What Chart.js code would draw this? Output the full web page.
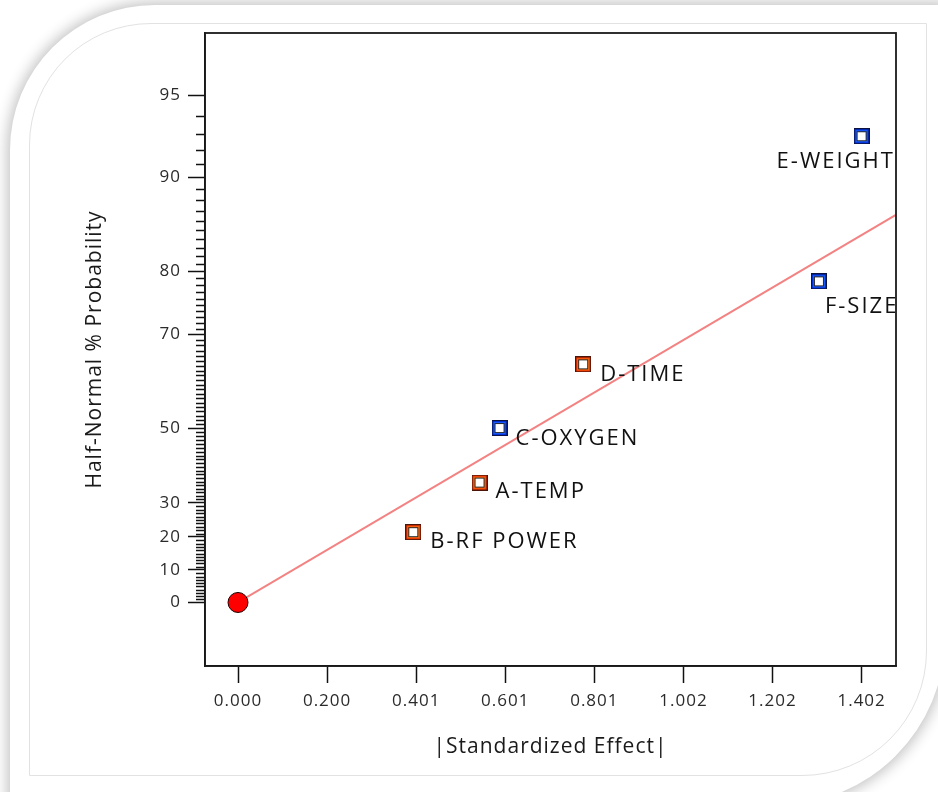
<!DOCTYPE html>
<html>
<head>
<meta charset="utf-8">
<script src="https://cdn.jsdelivr.net/npm/chart.js@4.4.0/dist/chart.umd.min.js"></script>
<style>
  html, body { margin: 0; padding: 0; width: 938px; height: 792px; overflow: hidden; background: #fff; }
  .card { position: absolute; left: 10px; top: 5px; width: 935px; height: 800px;
          border-radius: 145px 0 168px 0; background: #fff;
          box-shadow: 0 0 14px 3px rgba(0,0,0,0.24); }
  .inner { position: absolute; left: 29px; top: 23px; width: 896px; height: 751px;
           border: 1px solid #e2e2e2; border-radius: 122px 0 125px 0; }
  #plot { position: absolute; left: 0; top: 0; }
</style>
</head>
<body>
<div class="card"></div>
<div class="inner"></div>
<canvas id="plot" width="938" height="792"></canvas>
<script>
// effects, their |standardized effect| and half-normal probability (%)
const effectNames = ['B-RF POWER', 'A-TEMP', 'C-OXYGEN', 'D-TIME', 'F-SIZE', 'E-WEIGHT'];
const effectValues = [0.394, 0.543, 0.588, 0.776, 1.306, 1.402];
const effectProbs = [21.43, 35.71, 50.0, 64.29, 78.57, 92.86];
const effectColours = ['orange', 'orange', 'blue', 'orange', 'blue', 'blue'];

const originValues = [0];
const originProbs = [0];

const fitLineX = [0, 1.479];
const fitLineProbs = [0, 86.6];

const yMajorProbs = [0, 10, 20, 30, 50, 70, 80, 90, 95];
const yMinorProbs = [];
for (let p = 1; p <= 94; p++) if (!yMajorProbs.includes(p)) yMinorProbs.push(p);

const xTickValues = [0, 0.2003, 0.4006, 0.6009, 0.8011, 1.0014, 1.2017, 1.402];
const xTickLabels = ['0.000', '0.200', '0.401', '0.601', '0.801', '1.002', '1.202', '1.402'];

// inverse normal cdf (Acklam)
function invNorm(p) {
    const a = [-3.969683028665376e+01, 2.209460984245205e+02, -2.759285104469687e+02, 1.383577518672690e+02, -3.066479806614716e+01, 2.506628277459239e+00];
    const b = [-5.447609879822406e+01, 1.615858368580409e+02, -1.556989798598866e+02, 6.680131188771972e+01, -1.328068155288572e+01];
    const c = [-7.784894002430293e-03, -3.223964580411365e-01, -2.400758277161838e+00, -2.549732539343734e+00, 4.374664141464968e+00, 2.938163982698783e+00];
    const d = [7.784695709041462e-03, 3.224671290700398e-01, 2.445134137142996e+00, 3.754408661907416e+00];
    const pl = 0.02425;
    let q, r;
    if (p < pl) {
        q = Math.sqrt(-2 * Math.log(p));
        return (((((c[0]*q+c[1])*q+c[2])*q+c[3])*q+c[4])*q+c[5]) / ((((d[0]*q+d[1])*q+d[2])*q+d[3])*q+1);
    }
    if (p > 1 - pl) {
        q = Math.sqrt(-2 * Math.log(1 - p));
        return -(((((c[0]*q+c[1])*q+c[2])*q+c[3])*q+c[4])*q+c[5]) / ((((d[0]*q+d[1])*q+d[2])*q+d[3])*q+1);
    }
    q = p - 0.5; r = q * q;
    return (((((a[0]*r+a[1])*r+a[2])*r+a[3])*r+a[4])*r+a[5])*q / (((((b[0]*r+b[1])*r+b[2])*r+b[3])*r+b[4])*r+1);
}
const halfNormal = pct => invNorm(0.5 + pct / 200);

const markerColours = {
    orange: { edge: '#4a160a', ring: '#e83000', glow: '#ff6a10' },
    blue: { edge: '#0c1240', ring: '#0030d8', glow: '#1a5cff' },
};
function makeMarker(name) {
    const col = markerColours[name];
    const cv = document.createElement('canvas');
    cv.width = 16; cv.height = 16;
    const g = cv.getContext('2d');
    g.fillStyle = col.edge; g.fillRect(0, 0, 16, 16);
    g.fillStyle = col.ring; g.fillRect(1, 1, 14, 14);
    g.fillStyle = col.glow; g.fillRect(2, 2, 12, 12);
    g.fillStyle = '#2a2a2a'; g.fillRect(3, 3, 10, 10);
    g.fillStyle = '#ffffff'; g.fillRect(4, 4, 8, 8);
    return cv;
}
const markers = { orange: makeMarker('orange'), blue: makeMarker('blue') };

// label offsets from point centre (left edge, baseline)
const labelOffsets = [[17, 16], [16, 15], [16, 17], [17, 17], [6, 32], [-85, 32]];

const spacing = {
    id: 'spacing',
    beforeLayout(chart) { chart.ctx.letterSpacing = '1px'; },
    beforeDraw(chart) { chart.ctx.letterSpacing = '1px'; }
};

const extras = {
    id: 'extras',
    afterDatasetsDraw(chart) {
        const ctx = chart.ctx;
        const area = chart.chartArea;
        const meta = chart.getDatasetMeta(0);
        ctx.save();
        ctx.beginPath();
        ctx.rect(area.left, area.top, area.right - area.left, area.bottom - area.top);
        ctx.clip();
        ctx.letterSpacing = '2px';
        ctx.font = '22px "Open Sans"';
        ctx.fillStyle = '#111';
        ctx.textAlign = 'left';
        ctx.textBaseline = 'alphabetic';
        meta.data.forEach((pt, i) => {
            ctx.fillText(effectNames[i], pt.x + labelOffsets[i][0], pt.y + labelOffsets[i][1]);
        });
        ctx.restore();
    },
    afterDraw(chart) {
        const ctx = chart.ctx;
        const area = chart.chartArea;
        const ys = chart.scales.y;
        ctx.save();
        ctx.strokeStyle = '#111';
        ctx.lineWidth = 1.3;
        ctx.beginPath();
        yMinorProbs.forEach(p => {
            const py = Math.round(ys.getPixelForValue(halfNormal(p))) + 0.5;
            ctx.moveTo(area.left - 9, py);
            ctx.lineTo(area.left, py);
        });
        ctx.stroke();
        ctx.lineWidth = 1.8;
        ctx.strokeStyle = '#1a1a1a';
        ctx.strokeRect(area.left, area.top, area.right - area.left, area.bottom - area.top);
        ctx.restore();
    }
};

const tickFont = { family: 'Open Sans', size: 17 };
const titleFont = { family: 'Open Sans', size: 21 };

new Chart(document.getElementById('plot'), {
    type: 'scatter',
    data: {
        datasets: [{
            data: effectValues.map((v, i) => ({ x: v, y: halfNormal(effectProbs[i]) })),
            pointStyle: effectColours.map(c => markers[c]),
            pointRadius: 8,
            showLine: false,
        }, {
            data: originValues.map((v, i) => ({ x: v, y: halfNormal(originProbs[i]) })),
            pointRadius: 10,
            backgroundColor: '#ff0000',
            borderColor: '#1a0000',
            borderWidth: 1,
            showLine: false,
        }, {
            type: 'line',
            data: fitLineX.map((v, i) => ({ x: v, y: halfNormal(fitLineProbs[i]) })),
            borderColor: '#f38383',
            borderWidth: 2,
            pointRadius: 0,
            fill: false,
        }]
    },
    options: {
        responsive: false,
        animation: false,
        events: [],
        layout: { padding: { top: 33, right: 42, left: 0, bottom: 0 } },
        plugins: { legend: { display: false }, tooltip: { enabled: false } },
        scales: {
            x: {
                type: 'linear',
                min: -0.0742,
                max: 1.4793,
                afterBuildTicks: s => { s.ticks = xTickValues.map(v => ({ value: v })); },
                afterFit: s => { s.height = 126; },
                ticks: {
                    autoSkip: false, maxRotation: 0, padding: 8, color: '#2a2a2a', font: tickFont,
                    callback: (v, i) => xTickLabels[i]
                },
                grid: { drawOnChartArea: false, drawTicks: true, tickLength: 17, tickColor: '#111', tickWidth: 1.5 },
                border: { display: true, color: '#111', width: 1.5 },
                title: {
                    display: true, text: '|Standardized Effect|', color: '#1a1a1a', font: titleFont,
                    padding: { top: 0, bottom: 32 }
                }
            },
            y: {
                type: 'linear',
                min: -0.2456,
                max: 2.202,
                afterBuildTicks: s => { s.ticks = yMajorProbs.map(p => ({ value: halfNormal(p) })); },
                afterFit: s => { s.width = 205; },
                ticks: {
                    autoSkip: false, padding: 7, color: '#2a2a2a', font: tickFont,
                    callback: (v, i) => String(yMajorProbs[i])
                },
                grid: { drawOnChartArea: false, drawTicks: true, tickLength: 17, tickColor: '#111', tickWidth: 1.5 },
                border: { display: true, color: '#111', width: 1.5 },
                title: {
                    display: true, text: 'Half-Normal % Probability', color: '#1a1a1a', font: titleFont,
                    padding: { top: 82, bottom: 0 }
                }
            }
        }
    },
    plugins: [spacing, extras]
});
</script>
</body>
</html>
